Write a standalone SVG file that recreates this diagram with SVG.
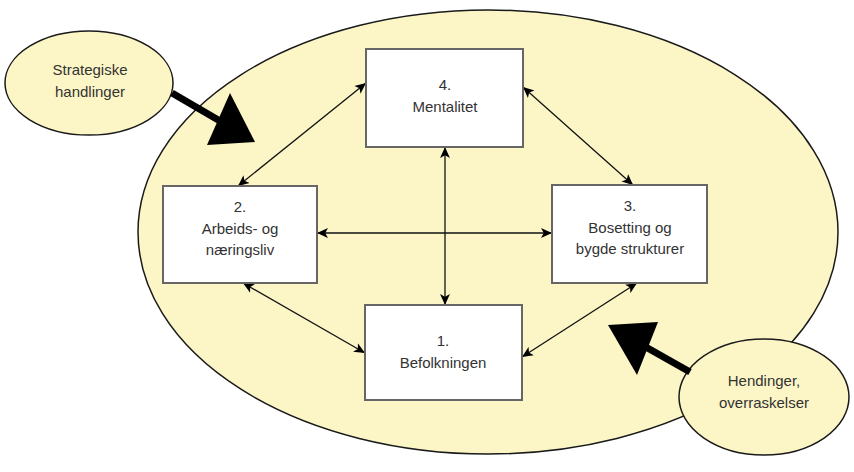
<svg xmlns="http://www.w3.org/2000/svg" width="854" height="472" viewBox="0 0 854 472">
<defs>
<style>
.ell{fill:#fcf6c6;stroke:#1a1a1a;stroke-width:1.5}
.box{fill:#ffffff;stroke:#666;stroke-width:2}
.t{font-family:"Liberation Sans",Arial,sans-serif;font-size:15px;fill:#333;text-anchor:middle}
.c{stroke:#111;stroke-width:1.3;fill:none;marker-start:url(#ah);marker-end:url(#ah)}
.big{stroke:#000;stroke-width:7;fill:none}
</style>
<marker id="ah" viewBox="0 0 10 10" refX="10" refY="5" markerWidth="11" markerHeight="11" markerUnits="userSpaceOnUse" orient="auto-start-reverse">
<path d="M0,0.5 L10,5 L0,9.5 L2.5,5 Z" fill="#000"/>
</marker>
</defs>
<rect width="854" height="472" fill="#fff"/>
<g id="main-ellipse"><ellipse class="ell" cx="488" cy="232" rx="350" ry="222"/></g>
<g id="strategiske">
<ellipse class="ell" cx="89" cy="83" rx="84" ry="52"/>
<text class="t" x="90" y="75">Strategiske</text>
<text class="t" x="90" y="97">handlinger</text>
</g>
<g id="hendinger">
<ellipse class="ell" cx="764" cy="397" rx="85" ry="58"/>
<text class="t" x="764" y="386">Hendinger,</text>
<text class="t" x="764" y="408">overraskelser</text>
</g>
<g id="thick-arrows">
<line class="big" x1="172" y1="93" x2="220" y2="121"/>
<path d="M255,142 L207,145 L230,93 Z" fill="#000"/>
<line class="big" x1="690" y1="372" x2="644" y2="346"/>
<path d="M608,325 L658,322 L637,375 Z" fill="#000"/>
</g>
<g id="connectors">
<line class="c" x1="366" y1="83" x2="238" y2="186"/>
<line class="c" x1="523" y1="87" x2="633" y2="185"/>
<line class="c" x1="445" y1="147" x2="445" y2="305"/>
<line class="c" x1="317" y1="233" x2="552" y2="233"/>
<line class="c" x1="243" y1="283" x2="365" y2="353"/>
<line class="c" x1="637" y1="283" x2="522" y2="357"/>
</g>
<g id="box4">
<rect class="box" x="366" y="49" width="157" height="98"/>
<text class="t" x="445" y="90">4.</text>
<text class="t" x="445" y="112">Mentalitet</text>
</g>
<g id="box2">
<rect class="box" x="163" y="186" width="154" height="97"/>
<text class="t" x="240" y="212">2.</text>
<text class="t" x="240" y="234">Arbeids- og</text>
<text class="t" x="240" y="255">næringsliv</text>
</g>
<g id="box3">
<rect class="box" x="552" y="185" width="155" height="98"/>
<text class="t" x="630" y="211">3.</text>
<text class="t" x="630" y="233">Bosetting og</text>
<text class="t" x="630" y="254">bygde strukturer</text>
</g>
<g id="box1">
<rect class="box" x="365" y="305" width="157" height="95"/>
<text class="t" x="443" y="346">1.</text>
<text class="t" x="443" y="368">Befolkningen</text>
</g>
</svg>
